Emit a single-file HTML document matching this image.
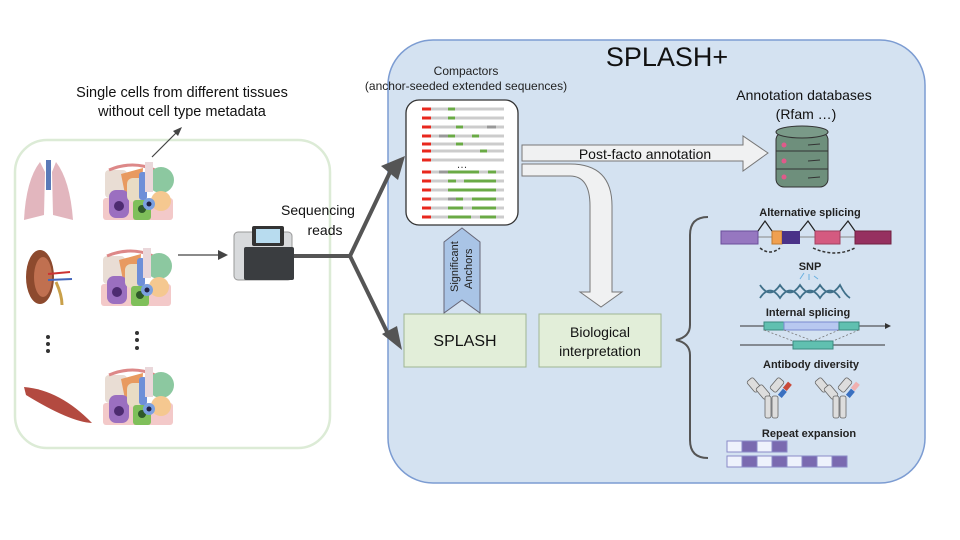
<!DOCTYPE html>
<html><head><meta charset="utf-8"><style>
html,body{margin:0;padding:0;background:#fff;}
svg{display:block;font-family:"Liberation Sans",sans-serif;}
</style></head><body>
<svg width="960" height="540" viewBox="0 0 960 540" xmlns="http://www.w3.org/2000/svg">
<defs>
<g id="cells">
 <rect x="0" y="30" width="70" height="22" rx="3" fill="#f3c9c9"/>
 <rect x="2" y="2" width="22" height="28" rx="4" fill="#e9ddd4"/>
 <polygon points="18,6 40,0 38,30 22,26" fill="#e89a60"/>
 <path d="M6 2 Q30 -8 52 2" stroke="#d88" stroke-width="3" fill="none"/>
 <rect x="6" y="22" width="20" height="28" rx="7" fill="#9b6fc0"/>
 <circle cx="16" cy="38" r="5" fill="#4d2b70"/>
 <rect x="24" y="10" width="20" height="24" rx="6" fill="#e9dcc4"/>
 <rect x="36" y="4" width="8" height="28" rx="3" fill="#6e8fd8"/>
 <rect x="30" y="32" width="18" height="20" rx="3" fill="#7fbf5a"/>
 <circle cx="39" cy="41" r="4" fill="#2f5a2a"/>
 <circle cx="58" cy="12" r="13" fill="#8cc8a0"/>
 <rect x="42" y="-6" width="8" height="30" fill="#ead7da"/>
 <circle cx="58" cy="33" r="10" fill="#f5c890"/>
 <circle cx="46" cy="36" r="6" fill="#7aa0e0"/>
 <circle cx="46" cy="36" r="2.5" fill="#224"/>
</g>
</defs>

<rect x="15" y="140" width="315" height="308" rx="32" fill="#fff" stroke="#dcebd6" stroke-width="2.5"/>
<text x="182" y="97" font-size="14.5" text-anchor="middle" fill="#111">Single cells from different tissues</text>
<text x="182" y="116" font-size="14.5" text-anchor="middle" fill="#111">without cell type metadata</text>
<line x1="152" y1="157" x2="178" y2="131" stroke="#444" stroke-width="1.2"/>
<polygon points="182,127 173,131 178,136" fill="#444"/>

<g>
 <path d="M40 162 Q26 180 24 220 L44 215 L45 172 Z" fill="#e2b6be"/>
 <path d="M56 162 Q70 180 73 220 L53 215 L52 172 Z" fill="#e2b6be"/>
 <rect x="46" y="160" width="5" height="30" fill="#5a7ab8"/>
</g>
<g>
 <ellipse cx="40" cy="277" rx="14" ry="27" fill="#8d4a2e"/>
 <ellipse cx="43" cy="277" rx="9" ry="20" fill="#c07050"/>
 <path d="M48 274 L70 272" stroke="#c33" stroke-width="2"/>
 <path d="M48 280 L72 279" stroke="#46b" stroke-width="2"/>
 <path d="M56 282 Q62 295 62 305" stroke="#c9a04a" stroke-width="3" fill="none"/>
</g>
<g fill="#333"><circle cx="48" cy="337" r="2"/><circle cx="48" cy="344" r="2"/><circle cx="48" cy="351" r="2"/>
<circle cx="137" cy="333" r="2"/><circle cx="137" cy="340" r="2"/><circle cx="137" cy="348" r="2"/></g>
<path d="M24 387 Q60 390 92 423 Q70 422 26 395 Z" fill="#b34a40"/>
<use href="#cells" x="103" y="168"/>
<use href="#cells" x="101" y="254"/>
<use href="#cells" x="103" y="373"/>

<line x1="178" y1="255" x2="218" y2="255" stroke="#444" stroke-width="1.3"/>
<polygon points="228,255 218,250 218,260" fill="#444"/>
<rect x="234" y="232" width="58" height="48" rx="4" fill="#d8dadc" stroke="#999"/>
<rect x="252" y="226" width="32" height="20" rx="2" fill="#333"/>
<rect x="256" y="229" width="24" height="14" fill="#b8dcef"/>
<rect x="244" y="247" width="50" height="33" rx="2" fill="#3a3d40"/>
<text x="318" y="215" font-size="14" text-anchor="middle" fill="#111">Sequencing</text>
<text x="325" y="235" font-size="14" text-anchor="middle" fill="#111">reads</text>

<rect x="388" y="40" width="537" height="443" rx="45" fill="#d4e2f1" stroke="#7c9cd2" stroke-width="1.5"/>
<text x="667" y="66" font-size="27" text-anchor="middle" fill="#111">SPLASH+</text>
<text x="466" y="75" font-size="12" text-anchor="middle" fill="#222">Compactors</text>
<text x="466" y="90" font-size="12" text-anchor="middle" fill="#222">(anchor-seeded extended sequences)</text>

<path d="M294 256 L350 256 L392 168" stroke="#555" stroke-width="4" fill="none"/>
<polygon points="405,156 381,166 398,180" fill="#555"/>
<path d="M350 256 L390 338" stroke="#555" stroke-width="4" fill="none"/>
<polygon points="402,350 382,334 397,326" fill="#555"/>

<rect x="406" y="100" width="112" height="125" rx="13" fill="#fff" stroke="#333" stroke-width="1.3"/>
<g stroke-width="3">
<g stroke="#ccc">
<line x1="422" y1="109" x2="504" y2="109"/><line x1="422" y1="118" x2="504" y2="118"/><line x1="422" y1="127" x2="504" y2="127"/>
<line x1="422" y1="136" x2="504" y2="136"/><line x1="422" y1="144" x2="504" y2="144"/><line x1="422" y1="151" x2="504" y2="151"/>
<line x1="422" y1="160" x2="504" y2="160"/><line x1="422" y1="172" x2="504" y2="172"/><line x1="422" y1="181" x2="504" y2="181"/>
<line x1="422" y1="190" x2="504" y2="190"/><line x1="422" y1="199" x2="504" y2="199"/><line x1="422" y1="208" x2="504" y2="208"/><line x1="422" y1="217" x2="504" y2="217"/>
</g>
<g stroke="#e8281e">
<line x1="422" y1="109" x2="431" y2="109"/><line x1="422" y1="118" x2="431" y2="118"/><line x1="422" y1="127" x2="431" y2="127"/>
<line x1="422" y1="136" x2="431" y2="136"/><line x1="422" y1="144" x2="431" y2="144"/><line x1="422" y1="151" x2="431" y2="151"/>
<line x1="422" y1="160" x2="431" y2="160"/><line x1="422" y1="172" x2="431" y2="172"/><line x1="422" y1="181" x2="431" y2="181"/>
<line x1="422" y1="190" x2="431" y2="190"/><line x1="422" y1="199" x2="431" y2="199"/><line x1="422" y1="208" x2="431" y2="208"/><line x1="422" y1="217" x2="431" y2="217"/>
</g>
<g stroke="#999"><line x1="487" y1="127" x2="496" y2="127"/><line x1="439" y1="136" x2="448" y2="136"/><line x1="439" y1="172" x2="448" y2="172"/><line x1="482" y1="181" x2="492" y2="181"/><line x1="448" y1="199" x2="456" y2="199"/></g>
<g stroke="#6aaa45">
<line x1="448" y1="109" x2="455" y2="109"/><line x1="448" y1="118" x2="455" y2="118"/><line x1="456" y1="127" x2="463" y2="127"/>
<line x1="448" y1="136" x2="455" y2="136"/><line x1="472" y1="136" x2="479" y2="136"/><line x1="456" y1="144" x2="463" y2="144"/>
<line x1="480" y1="151" x2="487" y2="151"/><line x1="448" y1="172" x2="479" y2="172"/><line x1="488" y1="172" x2="496" y2="172"/>
<line x1="448" y1="181" x2="456" y2="181"/><line x1="464" y1="181" x2="496" y2="181"/><line x1="448" y1="190" x2="496" y2="190"/>
<line x1="456" y1="199" x2="463" y2="199"/><line x1="472" y1="199" x2="496" y2="199"/><line x1="448" y1="208" x2="463" y2="208"/><line x1="472" y1="208" x2="496" y2="208"/>
<line x1="448" y1="217" x2="471" y2="217"/><line x1="480" y1="217" x2="496" y2="217"/>
</g></g>
<text x="462" y="168" font-size="11" text-anchor="middle" fill="#333">…</text>

<polygon points="444,242 462,228 480,242 480,313 462,300 444,313" fill="#a9c4e6" stroke="#667" stroke-width="1"/>
<text transform="translate(458,292) rotate(-90)" font-size="11" fill="#222">Significant</text>
<text transform="translate(472,289) rotate(-90)" font-size="11" fill="#222">Anchors</text>

<path d="M522 164 L570 164 Q612 164 612 206 L612 292 L622 292 L601 307 L580 292 L590 292 L590 206 Q590 176 570 176 L522 176 Z" fill="#f0f1f2" stroke="#777" stroke-width="1"/>
<polygon points="522,145 743,145 743,136 768,153 743,171 743,161 522,161" fill="#f0f1f2" stroke="#777" stroke-width="1"/>
<text x="645" y="159" font-size="14" text-anchor="middle" fill="#111">Post-facto annotation</text>

<text x="804" y="100" font-size="14" text-anchor="middle" fill="#111">Annotation databases</text>
<text x="806" y="119" font-size="14" text-anchor="middle" fill="#111">(Rfam …)</text>
<g stroke="#333" stroke-width="1">
<rect x="776" y="132" width="52" height="55" rx="8" fill="#6e8f7c"/>
<ellipse cx="802" cy="132" rx="26" ry="6" fill="#7a9a88"/>
<line x1="776" y1="151" x2="828" y2="151"/><line x1="776" y1="169" x2="828" y2="169"/>
</g>
<g fill="#e05a8a"><circle cx="784" cy="145" r="2.5"/><circle cx="784" cy="161" r="2.5"/><circle cx="784" cy="177" r="2.5"/></g>
<g stroke="#333" stroke-width="1"><line x1="808" y1="145" x2="820" y2="144"/><line x1="808" y1="161" x2="820" y2="160"/><line x1="808" y1="178" x2="820" y2="177"/></g>

<rect x="404" y="314" width="122" height="53" fill="#e2eed9" stroke="#9fb592" stroke-width="1"/>
<text x="465" y="346" font-size="16" text-anchor="middle" fill="#111">SPLASH</text>
<rect x="539" y="314" width="122" height="53" fill="#e2eed9" stroke="#9fb592" stroke-width="1"/>
<text x="600" y="337" font-size="14" text-anchor="middle" fill="#111">Biological</text>
<text x="600" y="356" font-size="14" text-anchor="middle" fill="#111">interpretation</text>

<path d="M708 217 Q690 217 690 235 L690 325 Q690 337 676 340 Q690 343 690 355 L690 440 Q690 458 708 458" stroke="#555" stroke-width="2" fill="none"/>

<g font-weight="bold" font-size="11" fill="#222" text-anchor="middle">
<text x="810" y="216">Alternative splicing</text>
<text x="810" y="270">SNP</text>
<text x="808" y="316">Internal splicing</text>
<text x="811" y="368">Antibody diversity</text>
<text x="809" y="437">Repeat expansion</text>
</g>
<line x1="757" y1="237" x2="855" y2="237" stroke="#888"/>
<rect x="721" y="231" width="37" height="13" fill="#9677c0" stroke="#6b4f9a"/>
<rect x="772" y="231" width="10" height="13" fill="#f0a050" stroke="#c07a30"/>
<rect x="782" y="231" width="18" height="13" fill="#4a3288"/>
<rect x="815" y="231" width="25" height="13" fill="#d45a80" stroke="#a04060"/>
<rect x="855" y="231" width="36" height="13" fill="#963060" stroke="#702040"/>
<path d="M758 231 L765 221 L772 231 M800 231 L808 221 L815 231 M840 231 L848 221 L855 231" stroke="#222" fill="none" stroke-width="1.2"/>
<path d="M760 248 Q770 256 780 248 M813 248 Q835 258 855 248" stroke="#333" stroke-dasharray="3,2" fill="none" stroke-width="1.5"/>
<path d="M804 273 L800 279 M809 274 L809 280 M814 276 L818 279" stroke="#6ab0e0" stroke-width="1"/>
<path d="M760 285 Q770 300 780 285 Q790 300 800 285 Q810 300 820 285 Q830 300 840 285 Q845 295 850 298 M760 298 Q770 283 780 298 Q790 283 800 298 Q810 283 820 298 Q830 283 840 298" stroke="#40708a" stroke-width="1.8" fill="none"/>
<line x1="740" y1="326" x2="885" y2="326" stroke="#333"/>
<polygon points="885,323 891,326 885,329" fill="#333"/>
<rect x="764" y="322" width="20" height="8" fill="#60c0b0" stroke="#3a8a80"/>
<rect x="784" y="322" width="55" height="8" fill="#b8c8f0" stroke="#7a8ad0"/>
<rect x="839" y="322" width="20" height="8" fill="#60c0b0" stroke="#3a8a80"/>
<line x1="740" y1="345" x2="885" y2="345" stroke="#333"/>
<rect x="793" y="341" width="40" height="8" fill="#60c0b0" stroke="#3a8a80"/>
<path d="M764 330 L793 341 M859 330 L833 341 M784 330 L813 341 M839 330 L813 341" stroke="#777" stroke-dasharray="2,2" stroke-width="0.8"/>
<g fill="#ddd" stroke="#666" stroke-width="0.8">
<rect x="750" y="378" width="8" height="14" rx="2" transform="rotate(-40 754 385)"/>
<rect x="759" y="385" width="8" height="14" rx="2" transform="rotate(-40 763 392)"/>
<rect x="773" y="378" width="8" height="14" rx="2" transform="rotate(40 777 385)"/>
<rect x="765" y="396" width="6" height="22" rx="2"/><rect x="772" y="396" width="6" height="22" rx="2"/>
<rect x="818" y="378" width="8" height="14" rx="2" transform="rotate(-40 822 385)"/>
<rect x="827" y="385" width="8" height="14" rx="2" transform="rotate(-40 831 392)"/>
<rect x="841" y="378" width="8" height="14" rx="2" transform="rotate(40 845 385)"/>
<rect x="833" y="396" width="6" height="22" rx="2"/><rect x="840" y="396" width="6" height="22" rx="2"/>
</g>
<rect x="785" y="382" width="5" height="8" fill="#c84a3a" transform="rotate(40 787 386)"/>
<rect x="780" y="389" width="5" height="8" fill="#3a70c0" transform="rotate(40 782 393)"/>
<rect x="853" y="382" width="5" height="8" fill="#f0b0b0" transform="rotate(40 855 386)"/>
<rect x="848" y="389" width="5" height="8" fill="#3a70c0" transform="rotate(40 850 393)"/>
<g stroke="#8a8ac8" stroke-width="1">
<rect x="727" y="441" width="15" height="11" fill="#eef2fc"/><rect x="742" y="441" width="15" height="11" fill="#7a6ab0"/>
<rect x="757" y="441" width="15" height="11" fill="#eef2fc"/><rect x="772" y="441" width="15" height="11" fill="#7a6ab0"/>
<rect x="727" y="456" width="15" height="11" fill="#eef2fc"/><rect x="742" y="456" width="15" height="11" fill="#7a6ab0"/>
<rect x="757" y="456" width="15" height="11" fill="#eef2fc"/><rect x="772" y="456" width="15" height="11" fill="#7a6ab0"/>
<rect x="787" y="456" width="15" height="11" fill="#eef2fc"/><rect x="802" y="456" width="15" height="11" fill="#7a6ab0"/>
<rect x="817" y="456" width="15" height="11" fill="#eef2fc"/><rect x="832" y="456" width="15" height="11" fill="#7a6ab0"/>
</g>
</svg>
</body></html>
